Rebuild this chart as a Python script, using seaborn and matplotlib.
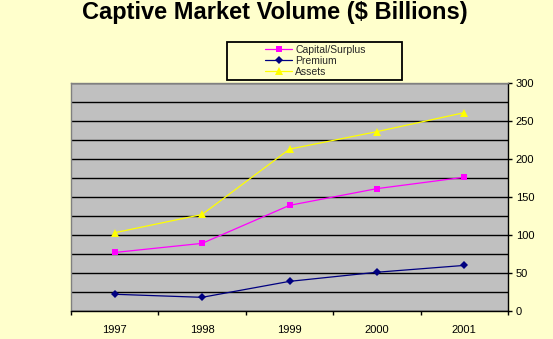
import matplotlib
matplotlib.use("Agg")
import matplotlib.pyplot as plt
import seaborn as sns
import pandas as pd
from matplotlib.patches import Rectangle
from matplotlib.ticker import MultipleLocator, FixedLocator, NullFormatter

years = ["1997", "1998", "1999", "2000", "2001"]
capital_surplus = [77, 89, 139, 161, 176]
premium = [22, 18, 39, 51, 60]
assets = [103, 127, 213, 236, 261]

series_names = ["Capital/Surplus", "Premium", "Assets"]
colors = {"Capital/Surplus": "#FF00FF", "Premium": "#000080", "Assets": "#FFFF00"}
markers = {"Capital/Surplus": "s", "Premium": "D", "Assets": "^"}
marker_sizes = {"s": 4.5, "D": 4.0, "^": 6.0}

rows = []
for name, vals in zip(series_names, [capital_surplus, premium, assets]):
    for i, (y, v) in enumerate(zip(years, vals)):
        rows.append({"pos": i, "year": y, "value": v, "series": name})
df = pd.DataFrame(rows)

sns.set_theme(style="white")
plt.rcParams["font.family"] = ["Liberation Sans", "DejaVu Sans"]

W, H = 553, 339
fig = plt.figure(figsize=(W/100, H/100), dpi=100, facecolor="#FFFFCC")
ax = fig.add_axes([71/W, 1-311/H, (508-71)/W, (311-83)/H])
ax.set_facecolor("#C0C0C0")

sns.lineplot(data=df, x="pos", y="value", hue="series", style="series",
             hue_order=series_names, style_order=series_names,
             palette=colors, markers=markers, dashes=False,
             linewidth=0.9, markersize=4.5, markeredgewidth=0, ax=ax, legend=True)
for ln in ax.lines:
    m = ln.get_marker()
    if m in marker_sizes:
        ln.set_markersize(marker_sizes[m])

ax.set_xlim(-0.5, 4.5)
ax.set_ylim(0, 300)
ax.yaxis.tick_right()
ax.yaxis.set_label_position("right")
ax.yaxis.set_major_locator(MultipleLocator(50))
ax.yaxis.set_minor_locator(MultipleLocator(25))
ax.grid(True, which="both", axis="y", color="black", linewidth=1.0)
ax.set_axisbelow(True)

ax.xaxis.set_major_locator(FixedLocator([-0.5, 0.5, 1.5, 2.5, 3.5, 4.5]))
ax.xaxis.set_major_formatter(NullFormatter())
ax.set_xticks(range(len(years)), labels=years, minor=True)
ax.tick_params(axis="x", which="major", direction="out", length=3, width=1, color="black", bottom=True)
ax.tick_params(axis="x", which="minor", length=0, labelsize=8, pad=10, labelcolor="black")
ax.tick_params(axis="y", which="major", direction="out", length=3, width=1, color="black",
               right=True, left=False, labelsize=8, pad=2.5, labelcolor="black")
ax.tick_params(axis="y", which="minor", length=0, right=False, left=False)

ax.set_xlabel("")
ax.set_ylabel("")
for s in ["left", "top"]:
    ax.spines[s].set_color("#808080")
    ax.spines[s].set_linewidth(1)
for s in ["right", "bottom"]:
    ax.spines[s].set_color("black")
    ax.spines[s].set_linewidth(1)

handles, labels = ax.get_legend_handles_labels()
ax.get_legend().remove()

# legend box
fig.patches.append(Rectangle((227/W, 1-80/H), (402-227)/W, (80-42)/H,
                             transform=fig.transFigure, facecolor="#FFFFCC",
                             edgecolor="black", linewidth=1.3, zorder=1))
leg = fig.legend(handles, labels, loc="upper left",
                 bbox_to_anchor=(265/W, 1-45/H), bbox_transform=fig.transFigure,
                 fontsize=7.5, frameon=False,
                 borderpad=0, labelspacing=0.08, handlelength=2.6, handletextpad=0.3,
                 borderaxespad=0)
leg.set_zorder(2)
for h in leg.legend_handles:
    m = h.get_marker()
    if m in marker_sizes:
        h.set_markersize(marker_sizes[m])

fig.text(274.5/W, 1-18.5/H, "Captive Market Volume ($ Billions)", ha="center", va="baseline",
         fontsize=17, fontweight="bold", color="black")

fig.savefig("out.png", dpi=100, facecolor=fig.get_facecolor())
